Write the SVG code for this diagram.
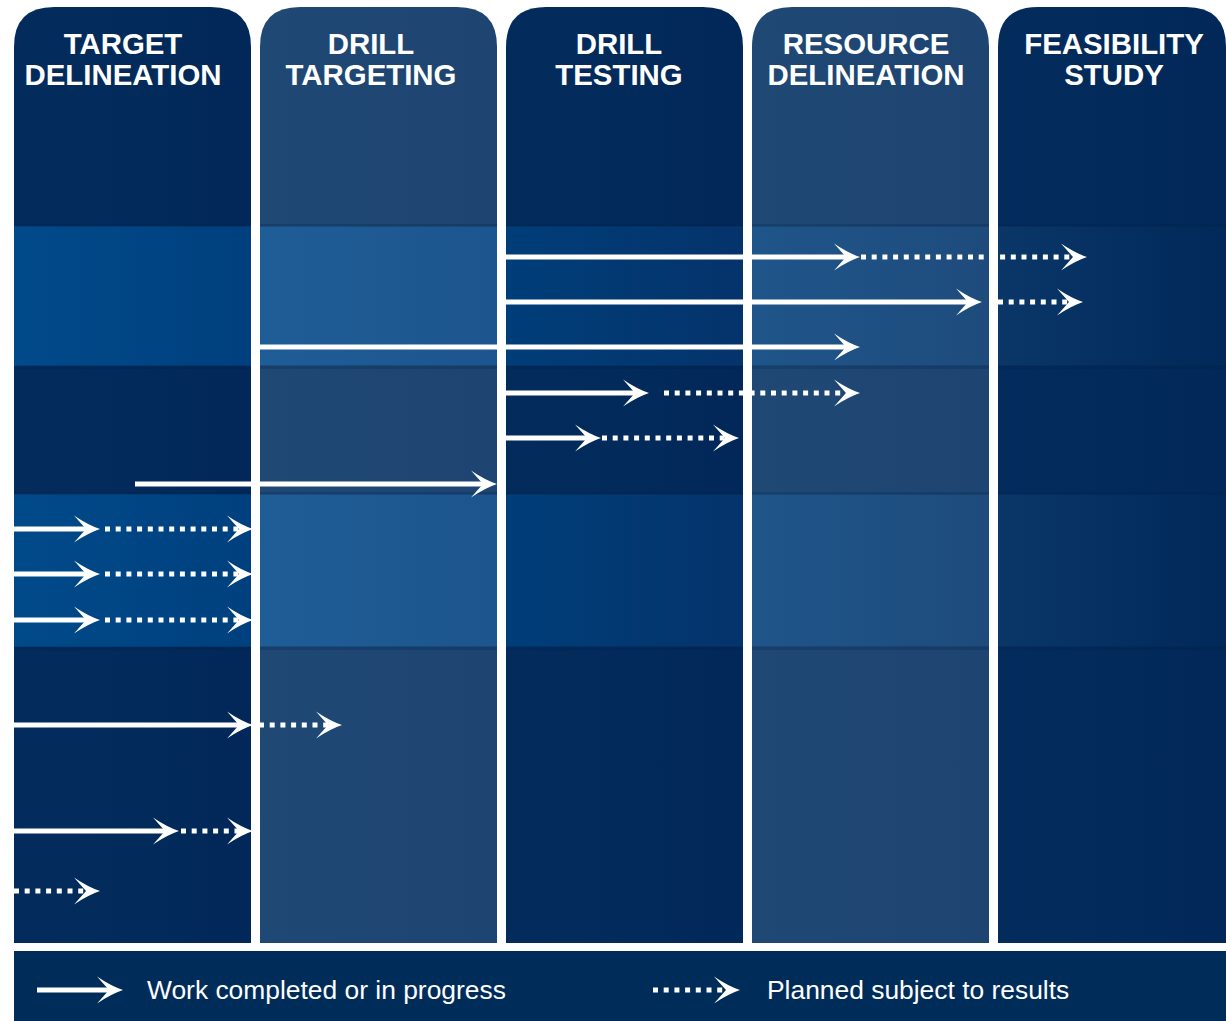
<svg xmlns="http://www.w3.org/2000/svg" width="1226" height="1021" viewBox="0 0 1226 1021">
<defs>
<style>
.title{font-family:"Liberation Sans",Arial,sans-serif;font-weight:bold;font-size:29.4px;fill:#ffffff;text-anchor:middle}
.leg{font-family:"Liberation Sans",Arial,sans-serif;font-size:26.4px;fill:#ffffff}
.solid{stroke:#ffffff;stroke-width:5;fill:none;marker-end:url(#head)}
.dot{stroke:#ffffff;stroke-width:5;fill:none;stroke-dasharray:5 5.7;marker-end:url(#head)}
.seam{fill:#001f48;opacity:0.25}
</style>
<marker id="head" markerUnits="userSpaceOnUse" viewBox="-28 -15 30 30" refX="-14" refY="0" markerWidth="30" markerHeight="30" orient="auto">
<path d="M0,0 Q-12,-4 -26,-13.5 L-14,0 L-26,13.5 Q-12,4 0,0 Z" fill="#ffffff"/>
</marker>
<linearGradient id="gDark" x1="0" x2="1" y1="0" y2="0"><stop offset="0" stop-color="#032c5d"/><stop offset="1" stop-color="#012858"/></linearGradient>
<linearGradient id="gLight" x1="0" x2="1" y1="0" y2="0"><stop offset="0" stop-color="#204874"/><stop offset="1" stop-color="#1e4571"/></linearGradient>
<linearGradient id="b1" x1="0" x2="1" y1="0" y2="0"><stop offset="0" stop-color="#014a8a"/><stop offset="1" stop-color="#00407e"/></linearGradient>
<linearGradient id="b2" x1="0" x2="1" y1="0" y2="0"><stop offset="0" stop-color="#1f5d96"/><stop offset="1" stop-color="#1d558e"/></linearGradient>
<linearGradient id="b3" x1="0" x2="1" y1="0" y2="0"><stop offset="0" stop-color="#003e79"/><stop offset="1" stop-color="#05336b"/></linearGradient>
<linearGradient id="b4" x1="0" x2="1" y1="0" y2="0"><stop offset="0" stop-color="#1f558a"/><stop offset="1" stop-color="#1e4b7c"/></linearGradient>
<linearGradient id="b5" x1="0" x2="1" y1="0" y2="0"><stop offset="0" stop-color="#0a3668"/><stop offset="1" stop-color="#01295a"/></linearGradient>
</defs>
<rect width="1226" height="1021" fill="#ffffff"/>

<g id="col-target-delineation">
<path d="M14,943 V47 Q14,7 54,7 H211 Q251,7 251,47 V943 Z" fill="url(#gDark)"/>
<rect x="14" y="226" width="237" height="140" fill="url(#b1)"/>
<rect x="14" y="494" width="237" height="153" fill="url(#b1)"/>
<text class="title" x="123" y="53.5">TARGET</text>
<text class="title" x="123" y="85">DELINEATION</text>
</g>
<g id="col-drill-targeting">
<path d="M260,943 V47 Q260,7 300,7 H457 Q497,7 497,47 V943 Z" fill="url(#gLight)"/>
<rect x="260" y="226" width="237" height="140" fill="url(#b2)"/>
<rect x="260" y="494" width="237" height="153" fill="url(#b2)"/>
<text class="title" x="371" y="53.5">DRILL</text>
<text class="title" x="371" y="85">TARGETING</text>
</g>
<g id="col-drill-testing">
<path d="M506,943 V47 Q506,7 546,7 H703 Q743,7 743,47 V943 Z" fill="url(#gDark)"/>
<rect x="506" y="226" width="237" height="140" fill="url(#b3)"/>
<rect x="506" y="494" width="237" height="153" fill="url(#b3)"/>
<text class="title" x="619" y="53.5">DRILL</text>
<text class="title" x="619" y="85">TESTING</text>
</g>
<g id="col-resource-delineation">
<path d="M752,943 V47 Q752,7 792,7 H949 Q989,7 989,47 V943 Z" fill="url(#gLight)"/>
<rect x="752" y="226" width="237" height="140" fill="url(#b4)"/>
<rect x="752" y="494" width="237" height="153" fill="url(#b4)"/>
<text class="title" x="866" y="53.5">RESOURCE</text>
<text class="title" x="866" y="85">DELINEATION</text>
</g>
<g id="col-feasibility-study">
<path d="M998,943 V47 Q998,7 1038,7 H1186 Q1226,7 1226,47 V943 Z" fill="url(#gDark)"/>
<rect x="998" y="226" width="228" height="140" fill="url(#b5)"/>
<rect x="998" y="494" width="228" height="153" fill="url(#b5)"/>
<text class="title" x="1114" y="53.5">FEASIBILITY</text>
<text class="title" x="1114" y="85">STUDY</text>
</g>

<g id="band-seams">
<rect class="seam" x="14" y="224" width="1212" height="3"/>
<rect class="seam" x="14" y="365" width="1212" height="4"/>
<rect class="seam" x="14" y="492" width="1212" height="3"/>
<rect class="seam" x="14" y="646" width="1212" height="4"/>
<rect x="251" y="220" width="9" height="440" fill="#ffffff"/>
<rect x="497" y="220" width="9" height="440" fill="#ffffff"/>
<rect x="743" y="220" width="9" height="440" fill="#ffffff"/>
<rect x="989" y="220" width="9" height="440" fill="#ffffff"/>
</g>

<g id="connectors">
<line class="solid" x1="506" y1="257" x2="846" y2="257"/>
<line class="dot" x1="861" y1="257" x2="1073" y2="257"/>
<line class="solid" x1="506" y1="302" x2="968" y2="302"/>
<line class="dot" x1="998" y1="302" x2="1069" y2="302"/>
<line class="solid" x1="260" y1="347" x2="846" y2="347"/>
<line class="solid" x1="506" y1="393" x2="635" y2="393"/>
<line class="dot" x1="664" y1="393" x2="846" y2="393"/>
<line class="solid" x1="506" y1="438" x2="587" y2="438"/>
<line class="dot" x1="602" y1="438" x2="725" y2="438"/>
<line class="solid" x1="135" y1="484" x2="483" y2="484"/>
<line class="solid" x1="14" y1="529" x2="86" y2="529"/>
<line class="dot" x1="105" y1="529" x2="239" y2="529"/>
<line class="solid" x1="14" y1="574" x2="86" y2="574"/>
<line class="dot" x1="105" y1="574" x2="239" y2="574"/>
<line class="solid" x1="14" y1="620" x2="86" y2="620"/>
<line class="dot" x1="105" y1="620" x2="239" y2="620"/>
<line class="solid" x1="14" y1="725" x2="239" y2="725"/>
<line class="dot" x1="259" y1="725" x2="328" y2="725"/>
<line class="solid" x1="14" y1="831" x2="165" y2="831"/>
<line class="dot" x1="181" y1="831" x2="239" y2="831"/>
<line class="dot" x1="14" y1="891" x2="86" y2="891"/>
</g>

<g id="legend">
<rect x="14" y="951" width="1212" height="70" fill="#002c5a"/>
<line class="solid" x1="37" y1="990" x2="109" y2="990"/>
<text class="leg" x="147" y="999">Work completed or in progress</text>
<line class="dot" x1="653" y1="990" x2="726" y2="990"/>
<text class="leg" x="767" y="999">Planned subject to results</text>
</g>
</svg>
